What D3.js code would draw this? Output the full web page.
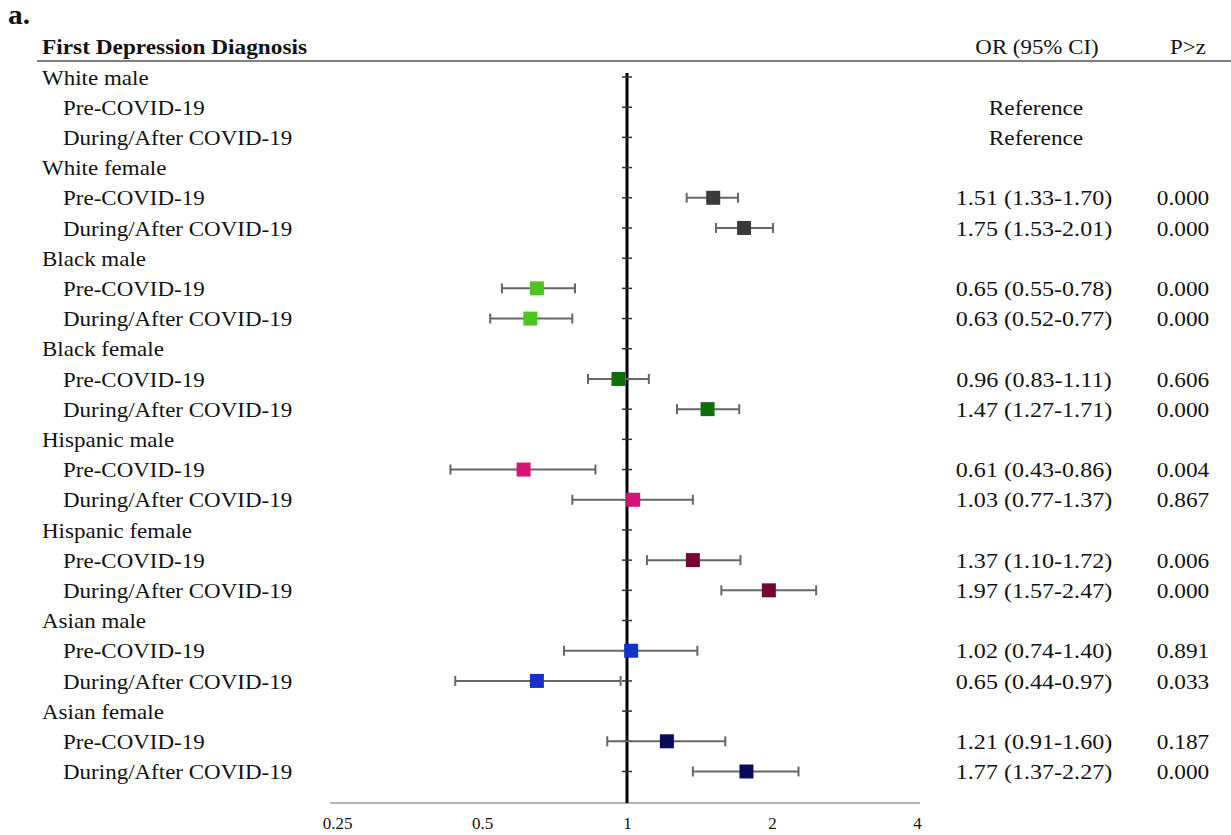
<!DOCTYPE html>
<html><head><meta charset="utf-8">
<script src="https://cdn.jsdelivr.net/npm/d3@7"></script>
<style>body{margin:0;background:#fff}svg{display:block}text{font-family:"Liberation Serif","Times New Roman",serif;fill:#111}</style>
</head><body><svg id="c" width="1231" height="835"></svg>
<script>
const groups = ["White male","White female","Black male","Black female","Hispanic male","Hispanic female","Asian male","Asian female"];
const periods = ["Pre-COVID-19","During/After COVID-19"];
const groupColors = ["#3a3a3a","#3a3a3a","#4cc61e","#0d700d","#d4147a","#760536","#1432c8","#0a0a5a"];
const orValues = [null,null,1.51,1.75,0.65,0.63,0.96,1.47,0.61,1.03,1.37,1.97,1.02,0.65,1.21,1.77];
const ciLow  = [null,null,1.33,1.53,0.55,0.52,0.83,1.27,0.43,0.77,1.10,1.57,0.74,0.44,0.91,1.37];
const ciHigh = [null,null,1.70,2.01,0.78,0.77,1.11,1.71,0.86,1.37,1.72,2.47,1.40,0.97,1.60,2.27];
const pValues = [null,null,"0.000","0.000","0.000","0.000","0.606","0.000","0.004","0.867","0.006","0.000","0.891","0.033","0.187","0.000"];
const xTicks = [0.25,0.5,1,2,4];

const svg = d3.select("#c");
const x = d3.scaleLog().base(2).domain([0.25,4]).range([337,917]);
const nRows = groups.length*3;
const y = d3.scaleLinear().domain([0,nRows-1]).range([77,771.5]);

const rows = [];
groups.forEach((g,gi)=>{
  rows.push({type:"group",label:g,gi});
  periods.forEach((p,pi)=>{
    const k = gi*2+pi;
    rows.push({type:"sub",label:p,gi,or:orValues[k],lo:ciLow[k],hi:ciHigh[k],p:pValues[k]});
  });
});
rows.forEach((r,i)=>r.i=i);

function stxt(sel, px, py, sx){ return sel.attr("x",0).attr("y",0).attr("transform",(d,i)=>`translate(${typeof px==="function"?px(d,i):px},${typeof py==="function"?py(d,i):py}) scale(${sx},1)`); }

stxt(svg.append("text"),8,24,1.05).attr("font-size",28).attr("font-weight","bold").text("a.");
stxt(svg.append("text"),42,54,1.06).attr("font-size",22).attr("font-weight","bold").text("First Depression Diagnosis");
stxt(svg.append("text"),1037,54,1.04).attr("font-size",22).attr("text-anchor","middle").text("OR (95% CI)");
stxt(svg.append("text"),1188,54,1.04).attr("font-size",22).attr("text-anchor","middle").text("P>z");
svg.append("line").attr("x1",37).attr("x2",1231).attr("y1",61).attr("y2",61).attr("stroke","#555").attr("stroke-width",1.5);

stxt(svg.selectAll("text.lab").data(rows).join("text").attr("class","lab"), d=>d.type==="group"?42:63, d=>y(d.i), 1.045)
  .attr("dy","0.35em").attr("font-size",22).text(d=>d.label);

const ax = svg.append("g").attr("transform","translate(0,803)").call(d3.axisBottom(x).tickValues(xTicks).tickFormat(d=>String(d)).tickSize(0).tickPadding(14));
ax.select(".domain").attr("stroke","#999").attr("stroke-width",1.5).attr("d","M330,0H920");
ax.selectAll("text").attr("font-size",17).attr("font-family","Liberation Serif, serif").attr("fill","#111");

svg.append("line").attr("x1",x(1)).attr("x2",x(1)).attr("y1",73).attr("y2",803).attr("stroke","#000").attr("stroke-width",3);
svg.selectAll("line.rt").data(rows).join("line").attr("class","rt")
  .attr("x1",x(1)-5).attr("x2",x(1)+5).attr("y1",d=>y(d.i)).attr("y2",d=>y(d.i)).attr("stroke","#333").attr("stroke-width",1.5);

const data = rows.filter(d=>d.type==="sub" && d.or!=null);
const ci = svg.selectAll("g.ci").data(data).join("g").attr("class","ci");
ci.append("line").attr("x1",d=>x(d.lo)).attr("x2",d=>x(d.hi)).attr("y1",d=>y(d.i)).attr("y2",d=>y(d.i)).attr("stroke","#666").attr("stroke-width",2);
ci.append("line").attr("x1",d=>x(d.lo)).attr("x2",d=>x(d.lo)).attr("y1",d=>y(d.i)-5).attr("y2",d=>y(d.i)+5).attr("stroke","#666").attr("stroke-width",2);
ci.append("line").attr("x1",d=>x(d.hi)).attr("x2",d=>x(d.hi)).attr("y1",d=>y(d.i)-5).attr("y2",d=>y(d.i)+5).attr("stroke","#666").attr("stroke-width",2);
ci.append("rect").attr("x",d=>x(d.or)-7).attr("y",d=>y(d.i)-7).attr("width",14).attr("height",14).attr("fill",d=>groupColors[d.gi]);

const fmt = d3.format(".2f");
stxt(svg.selectAll("text.ort").data(rows.filter(d=>d.type==="sub")).join("text").attr("class","ort"),
  d=>d.or==null?1036:1034, d=>y(d.i), d=>1)
  .attr("transform",d=>`translate(${d.or==null?1036:1034},${y(d.i)}) scale(${d.or==null?1.06:1.095},1)`)
  .attr("dy","0.35em").attr("text-anchor","middle").attr("font-size",22)
  .text(d=>d.or==null?"Reference":`${fmt(d.or)} (${fmt(d.lo)}-${fmt(d.hi)})`);
stxt(svg.selectAll("text.pt").data(data).join("text").attr("class","pt"), 1183, d=>y(d.i), 1.06)
  .attr("dy","0.35em").attr("text-anchor","middle").attr("font-size",22).text(d=>d.p);
</script></body></html>
